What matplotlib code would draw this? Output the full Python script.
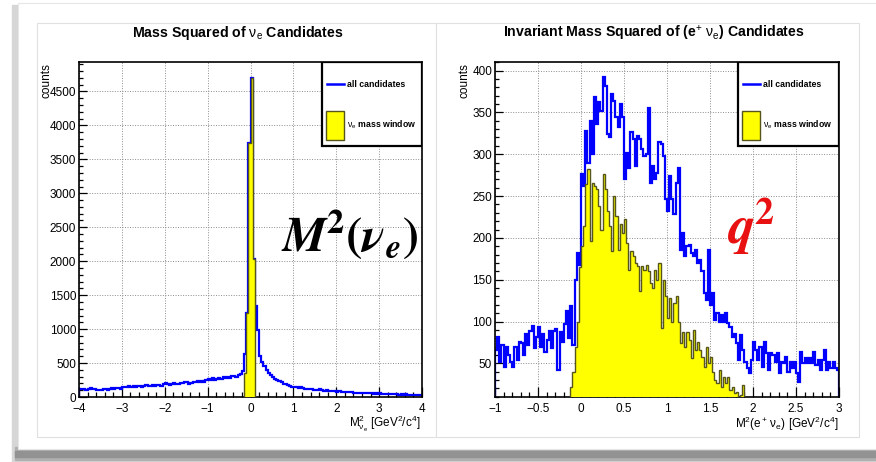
import numpy as np
import matplotlib
matplotlib.use('Agg')
import matplotlib.pyplot as plt
from matplotlib.patches import Rectangle
from matplotlib.lines import Line2D
from matplotlib.ticker import MultipleLocator, FuncFormatter

plt.rcParams['font.family'] = ['Liberation Sans', 'DejaVu Sans']
plt.rcParams['mathtext.fontset'] = 'custom'
plt.rcParams['mathtext.rm'] = 'Liberation Sans'
plt.rcParams['mathtext.it'] = 'Liberation Sans:italic'
plt.rcParams['mathtext.bf'] = 'Liberation Sans:bold'

W, H = 876, 462

# M^2(nu_e) of all candidates: 160 bins of 0.05 between -4 and 4
nu_edges = np.linspace(-4, 4, 161)
nu_all = [
    125, 118, 122, 110, 125, 128, 112, 115, 105, 108,
    100, 112, 118, 110, 122, 128, 120, 135, 130, 125,
    150, 140, 145, 155, 148, 160, 152, 158, 165, 150,
    162, 170, 160, 168, 175, 165, 172, 180, 168, 185,
    200, 190, 178, 195, 205, 192, 188, 210, 200, 215,
    220, 198, 212, 225, 218, 230, 225, 240, 222, 250,
    265, 255, 275, 245, 268, 280, 272, 290, 278, 300,
    285, 305, 310, 295, 325, 340, 380, 640, 1240, 3740,
    4700, 2030, 1340, 990, 600, 520, 450, 400, 350, 325,
    300, 270, 255, 240, 215, 190, 185, 170, 160, 150,
    150, 145, 135, 140, 128, 120, 125, 115, 118, 110,
    110, 105, 112, 100, 95, 102, 90, 95, 85, 88,
    80, 85, 78, 72, 80, 70, 68, 74, 65, 62,
    60, 66, 58, 62, 55, 52, 58, 50, 54, 48,
    55, 45, 48, 42, 40, 44, 38, 42, 40, 36,
    40, 35, 38, 32, 30, 35, 28, 30, 26, 25,
]
# candidates inside the nu_e mass window (bins from -0.15 on)
nu_win_start = -0.15
nu_win = [350, 1240, 3740, 4700, 2030]

# M^2(e+ nu_e): 160 bins of 0.025 between -1 and 3
q2_edges = np.linspace(-1, 3, 161)
q2_all = [
    66, 82, 52, 72, 46, 70, 60, 52, 46, 70,
    54, 76, 74, 60, 85, 72, 89, 95, 68, 82,
    93, 70, 85, 64, 78, 89, 68, 89, 91, 42,
    88, 76, 97, 112, 80, 118, 72, 150, 182, 168,
    276, 262, 328, 290, 340, 300, 368, 336, 362, 352,
    392, 382, 324, 320, 372, 364, 344, 332, 360, 344,
    270, 302, 284, 326, 318, 286, 322, 318, 306, 298,
    300, 355, 266, 286, 270, 278, 314, 312, 298, 246,
    232, 274, 246, 228, 266, 284, 186, 206, 178, 190,
    192, 182, 178, 186, 170, 174, 160, 134, 126, 186,
    120, 134, 102, 110, 100, 108, 100, 110, 98, 94,
    82, 85, 74, 54, 84, 66, 52, 44, 38, 54,
    76, 66, 54, 70, 46, 76, 62, 42, 62, 60,
    52, 62, 38, 52, 50, 58, 40, 52, 44, 52,
    38, 28, 64, 50, 56, 50, 56, 50, 64, 48,
    54, 42, 54, 66, 42, 52, 44, 52, 44, 42,
]
q2_win_start = -0.125
q2_win = [
    22, 40, 70, 100, 165, 190, 214, 264, 282, 196,
    266, 262, 258, 238, 210, 276, 258, 232, 214, 184,
    250, 226, 186, 216, 206, 222, 194, 162, 184, 178,
    170, 166, 136, 166, 162, 168, 160, 146, 140, 162,
    150, 170, 92, 150, 130, 104, 128, 100, 122, 130,
    100, 74, 88, 70, 88, 78, 56, 90, 66, 76,
    66, 58, 46, 70, 50, 58, 40, 30, 26, 42,
    22, 34, 26, 34, 18, 22, 14, 16, 10, 12,
    24, 10, 8,
]

BLUE = '#0000ff'
YELLOW = '#ffff00'
OLIVE = '#55551c'


def fx(x):
    return x / W


def fy(y):
    return 1 - y / H


def root_fmt(v, pos):
    # ROOT style labels: shortest form, real minus sign
    return ('%g' % v).replace('-', '\u2212')


def draw_card(fig):
    # slide card with a soft grey shadow on the left and bottom
    fig.patches.append(Rectangle((fx(12), fy(462)), 1, (462 - 5) / H,
                                 transform=fig.transFigure, color='#d6d6d6', zorder=-10))
    fig.patches.append(Rectangle((fx(15), fy(460)), 1, (460 - 447) / H,
                                 transform=fig.transFigure, color='#b0b0b0', zorder=-9))
    fig.patches.append(Rectangle((fx(15), fy(457)), 1, (457 - 451) / H,
                                 transform=fig.transFigure, color='#929292', zorder=-9))
    fig.patches.append(Rectangle((fx(18), fy(449)), 1, (449 - 3) / H,
                                 transform=fig.transFigure, facecolor='white',
                                 edgecolor='#e6e6e6', lw=0.8, zorder=-8))
    # the two ROOT pads
    for x0, x1 in [(37, 436), (436, 859)]:
        fig.patches.append(Rectangle((fx(x0), fy(437)), (x1 - x0) / W, (437 - 23) / H,
                                     transform=fig.transFigure, facecolor='white',
                                     edgecolor='#e0e0e0', lw=0.8, zorder=-7))


def style_axes(ax, xmaj, xmin, ymaj, ymin):
    ax.xaxis.set_major_locator(MultipleLocator(xmaj))
    ax.xaxis.set_minor_locator(MultipleLocator(xmin))
    ax.yaxis.set_major_locator(MultipleLocator(ymaj))
    ax.yaxis.set_minor_locator(MultipleLocator(ymin))
    ax.xaxis.set_major_formatter(FuncFormatter(root_fmt))
    ax.yaxis.set_major_formatter(FuncFormatter(root_fmt))
    ax.tick_params(which='both', direction='in', top=False, right=False,
                   labelsize=8.5, width=0.9, color='black')
    ax.tick_params(axis='x', which='major', length=7, pad=4.5)
    ax.tick_params(axis='x', which='minor', length=3.5)
    ax.tick_params(axis='y', which='major', length=5.5, pad=2)
    ax.tick_params(axis='y', which='minor', length=2.8)
    ax.grid(True, which='major', color='#8c8c8c', linestyle=(0, (1, 1.6)), linewidth=0.7)
    ax.set_axisbelow(True)
    for s in ax.spines.values():
        s.set_linewidth(1.2)


def draw_legend(ax, x0):
    ax.add_patch(Rectangle((x0, 0.748), 1 - x0, 0.252, transform=ax.transAxes,
                           facecolor='white', edgecolor='black', lw=1.6, zorder=5))
    ax.add_line(Line2D([x0 + 0.014, x0 + 0.064], [0.934, 0.934], transform=ax.transAxes,
                       color=BLUE, lw=1.8, zorder=6))
    ax.text(x0 + 0.074, 0.934, 'all candidates', transform=ax.transAxes,
            fontsize=6.3, fontweight='bold', va='center', zorder=6)
    ax.add_patch(Rectangle((x0 + 0.012, 0.768), 0.053, 0.087, transform=ax.transAxes,
                           facecolor=YELLOW, edgecolor=OLIVE, lw=1.0, zorder=6))
    ax.text(x0 + 0.074, 0.812, r'$\mathrm{\nu_e}$ mass window', transform=ax.transAxes,
            fontsize=6.3, fontweight='bold', va='center', zorder=6)


def histo_limits(vals):
    # ROOT's automatic range: 5% margin, clipped at zero
    lo, hi = min(vals), max(vals)
    pad = 0.05 * (hi - lo)
    return max(lo - pad, 0), hi + pad


fig = plt.figure(figsize=(W / 100, H / 100), dpi=100)
draw_card(fig)

# left pad: M^2 of the neutrino candidates
ax1 = fig.add_axes([fx(79), fy(397), (422 - 79) / W, (397 - 62) / H])
ax1.stairs(nu_all, nu_edges, color=BLUE, lw=1.6, zorder=2)
e1 = nu_win_start + 0.05 * np.arange(len(nu_win) + 1)
ax1.stairs(nu_win, e1, fill=True, facecolor=YELLOW, edgecolor=OLIVE, lw=1.0, zorder=3)
ax1.set_xlim(-4, 4)
ax1.set_ylim(*histo_limits(nu_all))
style_axes(ax1, 1, 0.2, 500, 100)
draw_legend(ax1, 0.708)

# right pad: invariant mass squared of (e+ nu_e)
ax2 = fig.add_axes([fx(495), fy(397), (839 - 495) / W, (397 - 62) / H])
ax2.stairs(q2_all, q2_edges, color=BLUE, lw=1.6, zorder=2)
e2 = q2_win_start + 0.025 * np.arange(len(q2_win) + 1)
ax2.stairs(q2_win, e2, fill=True, facecolor=YELLOW, edgecolor=OLIVE, lw=1.0, zorder=3)
ax2.set_xlim(-1, 3)
ax2.set_ylim(*histo_limits(q2_all))
style_axes(ax2, 0.5, 0.1, 50, 10)
draw_legend(ax2, 0.706)

# pad titles
fig.text(fx(238), fy(33), r'Mass Squared of $\mathrm{\nu_e}$ Candidates',
         ha='center', va='center', fontsize=10.2, fontweight='bold')
fig.text(fx(654), fy(33), r'Invariant Mass Squared of (e$^{+}$ $\mathrm{\nu_e}$) Candidates',
         ha='center', va='center', fontsize=10.2, fontweight='bold')

# axis titles
fig.text(fx(46), fy(63), 'counts', rotation=90, ha='center', va='top', fontsize=8.5)
fig.text(fx(465), fy(63), 'counts', rotation=90, ha='center', va='top', fontsize=8.5)
fig.text(fx(421), fy(424), r'$\mathrm{M^2_{\nu_e}}$ [GeV$^2$/c$^4$]',
         ha='right', va='center', fontsize=8.5)
fig.text(fx(838), fy(424), r'$\mathrm{M^2(e^+\,\nu_e)}$ [GeV$^2$/c$^4$]',
         ha='right', va='center', fontsize=8.5)

# big annotations
fig.text(fx(281), fy(251), r'$\mathbfit{M}^{\mathbf{2}}\mathbf{(}\mathbfit{\nu}_{\mathbfit{e}}\mathbf{)}$',
         math_fontfamily='stix', fontsize=35, color='black', ha='left', va='baseline')
fig.text(fx(727), fy(244), r'$\mathbfit{q}^{\mathbf{2}}$',
         math_fontfamily='stix', fontsize=39, color='#e81010', ha='left', va='baseline')

fig.savefig('out.png', dpi=100)
